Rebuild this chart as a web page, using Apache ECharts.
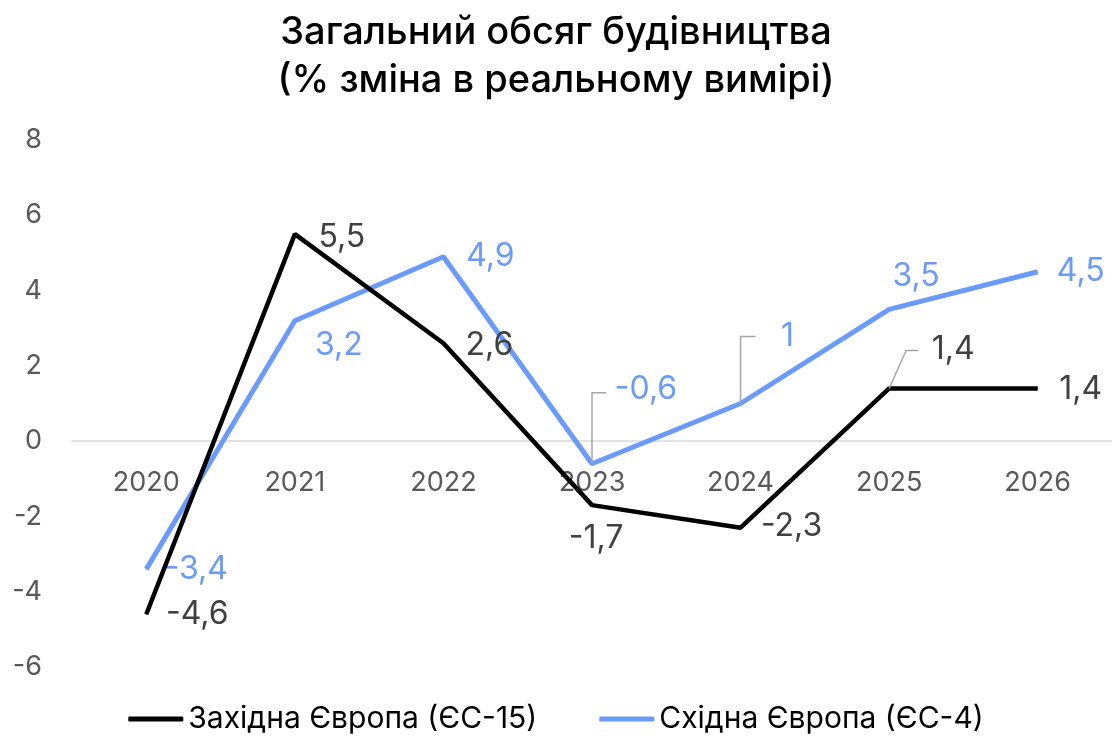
<!DOCTYPE html>
<html><head><meta charset="utf-8">
<script src="https://cdn.jsdelivr.net/npm/echarts@6/dist/echarts.min.js"></script>
<style>html,body{margin:0;padding:0;background:#fff}#c{width:1112px;height:741px}</style>
</head><body><div id="c"></div>
<script>
const categories = ['2020','2021','2022','2023','2024','2025','2026'];
const westValues = [-4.6, 5.5, 2.6, -1.7, -2.3, 1.4, 1.4];
const eastValues = [-3.4, 3.2, 4.9, -0.6, 1, 3.5, 4.5];
const seriesNames = ['Західна Європа (ЄС-15)', 'Східна Європа (ЄС-4)'];
const titleText = 'Загальний обсяг будівництва\n(% зміна в реальному вимірі)';

// label offsets (px) from the point
const westOffsets = [[51,0],[47,3],[46,2],[4,33],[51,-1],[64,-39],[43,1]];
const eastOffsets = [[50,0],[44,25],[47,0],[54,-74],[47,-67],[27,-33],[43,0]];
// leader lines: [elbow x shift, end x shift, elbow y shift vs label centre] (null = none)
const westLeader = [null,null,null,null,null,[17,29,1],null];
const eastLeader = [null,null,null,[0,14,3],[0,15,0],null,null];

const fmt = v => String(v).replace('.', ',');
const FONT = 'Inter';

function mkLayout(offsets){
  return function(p){
    const o = offsets[p.dataIndex];
    return {dx:o[0], dy:o[1]};
  };
}

const chart = echarts.init(document.getElementById('c'));
chart.setOption({
  animation:false,
  title:{text:titleText, left:'center', top:4,
    textStyle:{fontFamily:FONT, fontSize:38, fontWeight:500, color:'#000', lineHeight:48}},
  legend:{bottom:2, left:'center', itemWidth:55, itemHeight:5, itemGap:62,
    icon:'roundRect',
    textStyle:{fontFamily:FONT, fontSize:30, color:'#000'},
    data:seriesNames},
  grid:{left:72, right:0, top:140, bottom:74},
  xAxis:{type:'category', data:categories, boundaryGap:true,
    axisLine:{onZero:true, lineStyle:{color:'#d9d9d9', width:1.5}},
    axisTick:{show:false},
    axisLabel:{fontFamily:FONT, fontSize:27, color:'#595959', margin:-198}},
  yAxis:{type:'value', min:-6, max:8, interval:2,
    splitLine:{show:false}, axisLine:{show:false}, axisTick:{show:false},
    axisLabel:{fontFamily:FONT, fontSize:27, color:'#595959', margin:30}},
  series:[
    {name:seriesNames[0], type:'line', data:westValues,
      lineStyle:{color:'#000', width:4.5}, itemStyle:{color:'#000'},
      symbol:'circle', symbolSize:1, showSymbol:true,
      label:{show:true, position:'inside', formatter:p=>fmt(p.value),
        fontFamily:FONT, fontSize:32, color:'#404040'},
      labelLayout:mkLayout(westOffsets), z:3},
    {name:seriesNames[1], type:'line', data:eastValues,
      lineStyle:{color:'#6b9bfa', width:5}, itemStyle:{color:'#6b9bfa'},
      symbol:'circle', symbolSize:1, showSymbol:true,
      label:{show:true, position:'inside', formatter:p=>fmt(p.value),
        fontFamily:FONT, fontSize:32, color:'#6b9bfa'},
      labelLayout:mkLayout(eastOffsets), z:2}
  ]
});

// leader lines built from the data through the chart's own scales
function leaderGraphics(vals, offsets, leaders){
  const out = [];
  vals.forEach((v,i)=>{
    const L = leaders[i];
    if (!L) return;
    const pt = chart.convertToPixel({gridIndex:0}, [i, v]);
    const cy = pt[1] + offsets[i][1] + L[2];
    out.push({type:'polyline', silent:true, z:10,
      shape:{points:[[pt[0],pt[1]],[pt[0]+L[0],cy],[pt[0]+L[1],cy]]},
      style:{stroke:'#a6a6a6', lineWidth:1.5, fill:null}});
  });
  return out;
}
chart.setOption({graphic:[].concat(
  leaderGraphics(westValues, westOffsets, westLeader),
  leaderGraphics(eastValues, eastOffsets, eastLeader))});
</script></body></html>
